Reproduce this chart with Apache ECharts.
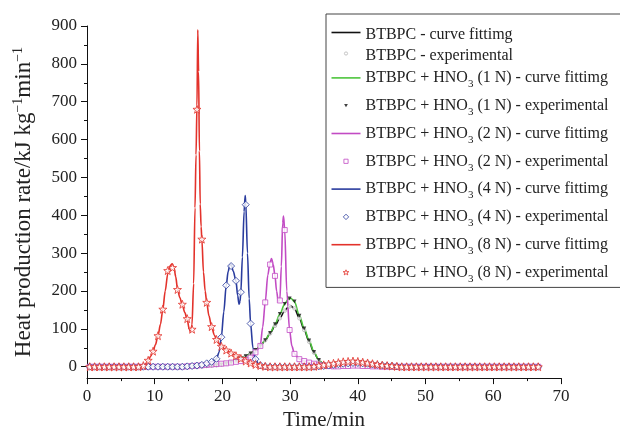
<!DOCTYPE html>
<html>
<head>
<meta charset="utf-8">
<script src="https://cdn.jsdelivr.net/npm/echarts@6/dist/echarts.min.js"></script>
<style>html,body{margin:0;padding:0;background:#fff}#c{width:620px;height:436px}</style>
</head>
<body>
<div id="c"></div>
<script>
// ---- data ----
var expTime = [0.40,1.12,1.84,2.56,3.28,4.00,4.72,5.44,6.16,6.88,7.60,8.32,9.04,9.76,10.48,11.20,11.92,12.64,13.36,14.08,14.80,15.52,16.24,16.96,17.68,18.40,19.12,19.84,20.56,21.28,22.00,22.72,23.44,24.16,24.88,25.60,26.32,27.04,27.76,28.48,29.20,29.92,30.64,31.36,32.08,32.80,33.52,34.24,34.96,35.68,36.40,37.12,37.84,38.56,39.28,40.00,40.72,41.44,42.16,42.88,43.60,44.32,45.04,45.76,46.48,47.20,47.92,48.64,49.36,50.08,50.80,51.52,52.24,52.96,53.68,54.40,55.12,55.84,56.56,57.28,58.00,58.72,59.44,60.16,60.88,61.60,62.32,63.04,63.76,64.48,65.20,65.92,66.64];

var expBTBPC = [0,0,0,0,0,0,0,0,0,0,0,0,0,0,0,0,0,0,0,0,0,0,0,1,2,3,4,6,8,11,16,22,28,35,44,55,70,88,108,128,148,159,154,128,97,66,37,17,5,1,1,2,4,5,6,6,5,4,3,2,1,0,0,0,0,0,0,0,0,0,0,0,0,0,0,0,0,0,0,0,0,0,0,0,0,0,0,0,0,0,0,0,0];
var exp1N = [0,0,0,0,0,0,0,0,0,0,0,0,0,0,0,0,0,0,0,0,0,0,0,1,2,3,4,6,8,11,16,22,28,35,44,55,70,89,112,139,166,180,172,135,101,69,39,18,6,1,0,1,2,3,4,4,3,3,2,1,0,0,0,0,0,0,0,0,0,0,0,0,0,0,0,0,0,0,0,0,0,0,0,0,0,0,0,0,0,0,0,0,0];
var exp2N = [0,0,0,0,0,0,0,0,0,0,0,0,0,0,0,0,0,0,0,0,1,2,3,4,5,6,7,8,9,11,13,15,18,24,38,55,170,270,240,175,361,97,34,20,15,11,8,5,3,2,1,1,2,2,3,3,2,2,1,1,0,0,0,0,0,0,0,0,0,0,0,0,0,0,0,0,0,0,0,0,0,0,0,0,0,0,0,0,0,0,0,0,0];
var exp4N = [0,0,0,0,0,0,0,0,0,0,0,0,0,0,0,0,0,0,0,0,1,2,3,5,9,13,21,78,215,266,227,197,428,114,20,4,1,0,0,0,0,0,0,0,0,0,0,1,2,3,5,7,8,9,10,10,9,8,6,5,4,3,2,1,0,0,0,0,0,0,0,0,0,0,0,0,0,0,0,0,0,0,0,0,0,0,0,0,0,0,0,0,0];
var exp8N = [0,0,0,0,0,0,0,0,0,0,0,3,17,41,82,152,254,262,204,165,127,99,680,337,170,106,72,54,44,36,29,22,15,10,6,3,1,0,0,0,0,0,0,0,0,0,1,3,5,7,9,11,13,14,15,14,12,10,8,6,4,3,2,1,0,0,0,0,0,0,0,0,0,0,0,0,0,0,0,0,0,0,0,0,0,0,0,0,0,0,0,0,0];

var fitBTBPC = [[0,0],[16,0],[16.96,1],[17.68,2],[18.4,3],[19.12,4],[19.84,6],[20.56,8],[21.28,11],[22,16],[22.72,22],[23.44,28],[24.16,35],[24.88,44],[25.6,55],[26.32,70],[27.04,88],[27.76,108],[28.48,128],[29.2,148],[29.7,157],[30.1,160],[30.64,154],[31.36,128],[32.08,97],[32.8,66],[33.52,37],[34.24,17],[34.96,5],[35.68,1],[36.4,1],[37.12,2],[37.84,4],[38.56,5],[39.28,6],[40,6],[40.72,5],[41.44,4],[42.16,3],[42.88,2],[43.6,1],[44.5,0],[67,0]];
var fit1N = [[0,0],[16,0],[16.96,1],[17.68,2],[18.4,3],[19.12,4],[19.84,6],[20.56,8],[21.28,11],[22,16],[22.72,22],[23.44,28],[24.16,35],[24.88,44],[25.6,55],[26.32,70],[27.04,89],[27.76,112],[28.48,139],[29.2,166],[29.75,179],[30.1,181],[30.64,172],[31.36,135],[32.08,101],[32.8,69],[33.52,39],[34.24,18],[34.96,6],[35.68,1],[36.4,0],[37.12,1],[37.84,2],[38.56,3],[39.28,4],[40,4],[40.72,3],[41.44,3],[42.16,2],[42.88,1],[43.6,0],[67,0]];
var fit2N = [[0,0],[14,0],[14.8,1],[16.24,3],[17.68,5],[19.12,7],[20.56,9],[22,13],[23.44,18],[24.16,24],[24.6,30],[24.88,38],[25.25,46],[25.6,58],[25.95,105],[26.32,170],[26.7,242],[27.04,276],[27.25,286],[27.5,270],[27.76,240],[28.0,200],[28.25,172],[28.48,176],[28.7,265],[28.9,380],[29.02,398],[29.2,361],[29.5,200],[29.92,97],[30.25,55],[30.64,34],[31.36,20],[32.08,15],[32.8,11],[33.52,8],[34.24,5],[34.96,3],[35.68,2],[36.4,1],[37.84,2],[39.28,3],[40.72,2],[42.16,1],[43,0],[67,0]];
var fit4N = [[0,0],[14,0],[14.8,1],[15.52,2],[16.24,3],[16.96,5],[17.68,9],[18.4,13],[19.12,21],[19.5,38],[19.84,78],[20.2,145],[20.56,215],[20.85,252],[21.1,269],[21.3,270],[21.6,252],[22,227],[22.25,188],[22.45,165],[22.6,173],[22.72,197],[22.95,290],[23.2,410],[23.36,452],[23.44,435],[23.7,300],[23.95,180],[24.16,114],[24.5,50],[24.88,20],[25.3,8],[25.6,4],[26.32,1],[27,0],[33.5,0],[34.24,1],[34.96,2],[35.68,3],[36.4,5],[37.12,7],[37.84,8],[38.56,9],[39.28,10],[40,10],[40.72,9],[41.44,8],[42.16,6],[42.88,5],[43.6,4],[44.32,3],[45.04,2],[45.76,1],[46.5,0],[67,0]];
var fit8N = [[0,0],[7.5,0],[8.32,3],[8.7,8],[9.04,17],[9.4,27],[9.76,41],[10.1,58],[10.48,82],[10.85,112],[11.2,152],[11.55,200],[11.92,245],[12.25,266],[12.55,272],[12.85,262],[13.1,238],[13.36,206],[13.7,183],[14.08,163],[14.45,143],[14.8,124],[15.1,100],[15.3,92],[15.5,110],[15.75,220],[15.95,420],[16.1,560],[16.24,690],[16.36,890],[16.48,780],[16.6,570],[16.72,430],[16.85,370],[16.96,337],[17.2,250],[17.45,200],[17.68,170],[18.0,135],[18.4,106],[18.8,84],[19.12,72],[19.5,61],[19.84,54],[20.56,44],[21.28,36],[22,29],[22.72,22],[23.44,15],[24.16,10],[24.88,6],[25.6,3],[26.32,1],[27,0],[32.8,0],[33.52,1],[34.24,3],[34.96,5],[35.68,7],[36.4,9],[37.12,11],[37.84,13],[38.56,14],[39.28,15],[40,14],[40.72,12],[41.44,10],[42.16,8],[42.88,6],[43.6,4],[44.32,3],[45.04,2],[45.76,1],[46.5,0],[67,0]];

var yMajorTicks = [0,100,200,300,400,500,600,700,800,900];
var yMinorTicks = [50,150,250,350,450,550,650,750,850];

var names = [
  'BTBPC - curve fittimg',
  'BTBPC - experimental',
  'BTBPC + HNO3 (1 N) - curve fittimg',
  'BTBPC + HNO3 (1 N) - experimental',
  'BTBPC + HNO3 (2 N) - curve fittimg',
  'BTBPC + HNO3 (2 N) - experimental',
  'BTBPC + HNO3 (4 N) - curve fittimg',
  'BTBPC + HNO3 (4 N) - experimental',
  'BTBPC + HNO3 (8 N) - curve fittimg',
  'BTBPC + HNO3 (8 N) - experimental'
];

// ---- build ----
function pairs(vals){ return expTime.map(function(t,i){ return [t, vals[i]]; }); }
var FONT = 'Liberation Serif';
var starPath = 'path://M0,-10 L2.35,-3.24 L9.51,-3.09 L3.8,1.24 L5.88,8.09 L0,4 L-5.88,8.09 L-3.8,1.24 L-9.51,-3.09 L-2.35,-3.24 Z';

var C = {bt:'#111111', btp:'#b8b8b8', n1:'#4cc43c', n2:'#c24bc4', n4:'#2a3c9e', n8:'#e3322b'};

// legend icons (box 29 x 6, mark centred)
var PAD = 'M0,0 M29,6 ';
var icLine = 'path://M0,0 L29,0 L29,1.6 L0,1.6 Z';
var icCircle = 'path://' + PAD + 'M12.9,3 A1.6,1.6 0 1,0 16.1,3 A1.6,1.6 0 1,0 12.9,3 Z';
var icTri = 'path://' + PAD + 'M12.6,1.4 L16.4,1.4 L14.5,4.6 Z';
var icRect = 'path://' + PAD + 'M12.4,0.9 L16.6,0.9 L16.6,5.1 L12.4,5.1 Z';
var icDiam = 'path://' + PAD + 'M14.5,0.3 L17.2,3 L14.5,5.7 L11.8,3 Z';
var icStar = 'path://' + PAD + 'M14.5,0.3 L15.2,2.1 L17.35,2.15 L15.64,3.4 L16.26,5.4 L14.5,4.2 L12.74,5.4 L13.36,3.4 L11.65,2.15 L13.8,2.1 Z';

function curve(name, data, color){
  return {name:name, type:'line', data:data, symbol:'none', smooth:0.3, smoothMonotone:'x',
    lineStyle:{color:color, width:1.6}, itemStyle:{color:color}, z:2};
}
function pts(name, vals, symbol, size, color, fill, bw, rot){
  return {name:name, type:'scatter', data:pairs(vals), symbol:symbol, symbolSize:size, symbolRotate:rot||0,
    itemStyle:{color:fill, borderColor:color, borderWidth:bw}, z:3};
}

var series = [
  curve(names[0], fitBTBPC, C.bt),
  pts(names[1], expBTBPC, 'circle', 3.5, C.btp, '#ffffff', 1),
  curve(names[2], fit1N, C.n1),
  pts(names[3], exp1N, 'triangle', 4, C.bt, C.bt, 0, 180),
  curve(names[4], fit2N, C.n2),
  pts(names[5], exp2N, 'rect', 5, C.n2, '#ffffff', 1),
  curve(names[6], fit4N, C.n4),
  pts(names[7], exp4N, 'diamond', 7, C.n4, '#ffffff', 1),
  curve(names[8], fit8N, C.n8),
  pts(names[9], exp8N, starPath, 8, C.n8, '#ffffff', 1)
];

var legendData = [
  {name:names[0], icon:icLine, itemStyle:{color:C.bt, borderWidth:0}},
  {name:names[1], icon:icCircle, itemStyle:{color:'#fff', borderColor:C.btp, borderWidth:1}},
  {name:names[2], icon:icLine, itemStyle:{color:C.n1, borderWidth:0}},
  {name:names[3], icon:icTri, itemStyle:{color:C.bt, borderWidth:0}},
  {name:names[4], icon:icLine, itemStyle:{color:C.n2, borderWidth:0}},
  {name:names[5], icon:icRect, itemStyle:{color:'#fff', borderColor:C.n2, borderWidth:1}},
  {name:names[6], icon:icLine, itemStyle:{color:C.n4, borderWidth:0}},
  {name:names[7], icon:icDiam, itemStyle:{color:'#fff', borderColor:C.n4, borderWidth:1}},
  {name:names[8], icon:icLine, itemStyle:{color:C.n8, borderWidth:0}},
  {name:names[9], icon:icStar, itemStyle:{color:'#fff', borderColor:C.n8, borderWidth:1}}
];

var chart = echarts.init(document.getElementById('c'), null, {renderer:'canvas'});
chart.setOption({
  animation:false,
  backgroundColor:'#ffffff',
  grid:{left:87, right:59, top:26, bottom:52, containLabel:false},
  legend:{
    orient:'vertical', left:326, top:14,
    padding:[8,16,1,5], itemGap:0, itemWidth:29, itemHeight:6,
    borderColor:'#444', borderWidth:1, backgroundColor:'#fff',
    data:legendData,
    formatter:function(n){
      return n.indexOf('HNO3') >= 0 ? n.replace('HNO3','HNO{s|3}') : '{p|' + n + '}';
    },
    textStyle:{fontFamily:FONT, fontSize:16, color:'#222', lineHeight:27.8,
      rich:{
        s:{fontFamily:FONT, fontSize:11, color:'#222', lineHeight:27.8, padding:[13,0,0,0]},
        p:{fontFamily:FONT, fontSize:16, color:'#222', lineHeight:21, padding:[5,0,0,0]}
      }}
  },
  xAxis:{
    type:'value', min:0, max:70, interval:10,
    name:'Time/min', nameLocation:'middle', nameGap:26,
    nameTextStyle:{fontFamily:FONT, fontSize:21, color:'#222'},
    axisLine:{show:true, onZero:false, lineStyle:{color:'#111', width:1}},
    axisTick:{show:true, inside:false, length:6, lineStyle:{color:'#111'}},
    minorTick:{show:true, splitNumber:2, length:3, lineStyle:{color:'#111'}},
    axisLabel:{fontFamily:FONT, fontSize:17, color:'#222', margin:10},
    splitLine:{show:false}
  },
  yAxis:[{
    type:'value', min:-30, max:900,
    name:'Heat production rate/kJ kg{sup|\u22121}min{sup|\u22121}', nameLocation:'middle', nameGap:51,
    nameTextStyle:{fontFamily:FONT, fontSize:23, color:'#222',
      rich:{sup:{fontFamily:FONT, fontSize:14, color:'#222', padding:[0,0,11,0]}}},
    axisLine:{show:true, onZero:false, lineStyle:{color:'#111', width:1}},
    axisTick:{show:true, inside:false, length:6, customValues:yMajorTicks, lineStyle:{color:'#111'}},
    axisLabel:{fontFamily:FONT, fontSize:17, color:'#222', margin:10, customValues:yMajorTicks},
    splitLine:{show:false}
  },{
    type:'value', min:-30, max:900, position:'left',
    axisLine:{show:false},
    axisTick:{show:true, inside:false, length:3, customValues:yMinorTicks, lineStyle:{color:'#111'}},
    axisLabel:{show:false},
    splitLine:{show:false}
  }],
  series:series
});
</script>
</body>
</html>
